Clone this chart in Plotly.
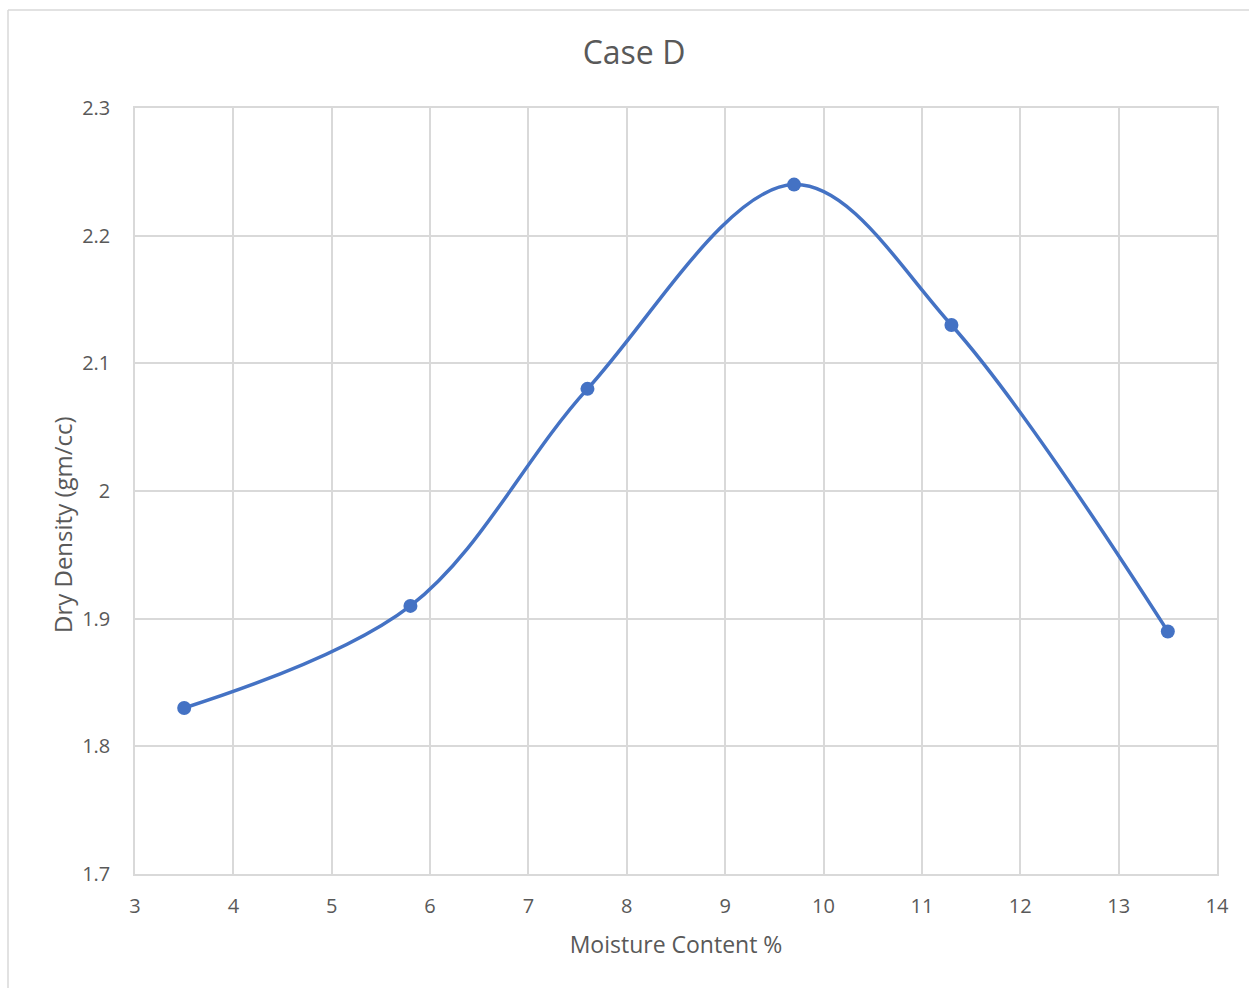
import plotly.graph_objects as go

# Compaction test results
moisture = [3.5, 5.8, 7.6, 9.7, 11.3, 13.5]
dry_density = [1.83, 1.91, 2.08, 2.24, 2.13, 1.89]

x_ticks = list(range(3, 15))
y_ticks = [1.7, 1.8, 1.9, 2.0, 2.1, 2.2, 2.3]
y_labels = ["1.7", "1.8", "1.9", "2", "2.1", "2.2", "2.3"]

FONT = "Open Sans, Liberation Sans, sans-serif"
TEXT = "#595959"
GRID = "#d9d9d9"
BLUE = "#4472C4"

fig = go.Figure(
    go.Scatter(
        x=moisture,
        y=dry_density,
        mode="lines+markers",
        line=dict(color=BLUE, width=3.5, shape="spline", smoothing=1.0),
        marker=dict(color=BLUE, size=14),
        showlegend=False,
        hoverinfo="x+y",
    )
)

fig.update_layout(
    width=1249,
    height=988,
    margin=dict(l=135, r=32, t=108, b=114),
    paper_bgcolor="white",
    plot_bgcolor="white",
    font=dict(family=FONT, color=TEXT),
    title=dict(
        text="Case D",
        x=634 / 1249,
        xanchor="center",
        y=1 - 53 / 988,
        yanchor="middle",
        font=dict(size=32, color=TEXT, family=FONT),
    ),
    xaxis=dict(
        range=[3, 14],
        tickvals=x_ticks,
        showgrid=True,
        gridcolor=GRID,
        gridwidth=1.5,
        zeroline=False,
        showline=True,
        linecolor=GRID,
        linewidth=1.5,
        mirror=True,
        ticks="",
        ticklabelstandoff=13,
        tickfont=dict(size=20, color=TEXT),
        title=dict(text="Moisture Content %", font=dict(size=23, color=TEXT), standoff=19),
    ),
    yaxis=dict(
        range=[1.7, 2.3],
        tickvals=y_ticks,
        ticktext=y_labels,
        showgrid=True,
        gridcolor=GRID,
        gridwidth=1.5,
        zeroline=False,
        showline=True,
        linecolor=GRID,
        linewidth=1.5,
        mirror=True,
        ticks="",
        ticklabelstandoff=19,
        tickfont=dict(size=20, color=TEXT),
    ),
    annotations=[
        dict(
            text="Dry Density (gm/cc)",
            xref="paper", yref="paper",
            x=(62 - 135) / 1082, y=(874 - 525) / 766,
            xanchor="center", yanchor="middle",
            textangle=-90, showarrow=False,
            font=dict(size=24, color=TEXT, family=FONT),
        )
    ],
    shapes=[
        # chart-area frame (top and left edges)
        dict(type="line", xref="paper", yref="paper",
             x0=(8 - 135) / 1082, x1=1.05,
             y0=(874 - 10) / 766, y1=(874 - 10) / 766,
             line=dict(color=GRID, width=1.5)),
        dict(type="line", xref="paper", yref="paper",
             x0=(8 - 135) / 1082, x1=(8 - 135) / 1082,
             y0=(874 - 10) / 766, y1=-0.2,
             line=dict(color=GRID, width=1.5)),
    ],
)

fig.write_html("out.html")
